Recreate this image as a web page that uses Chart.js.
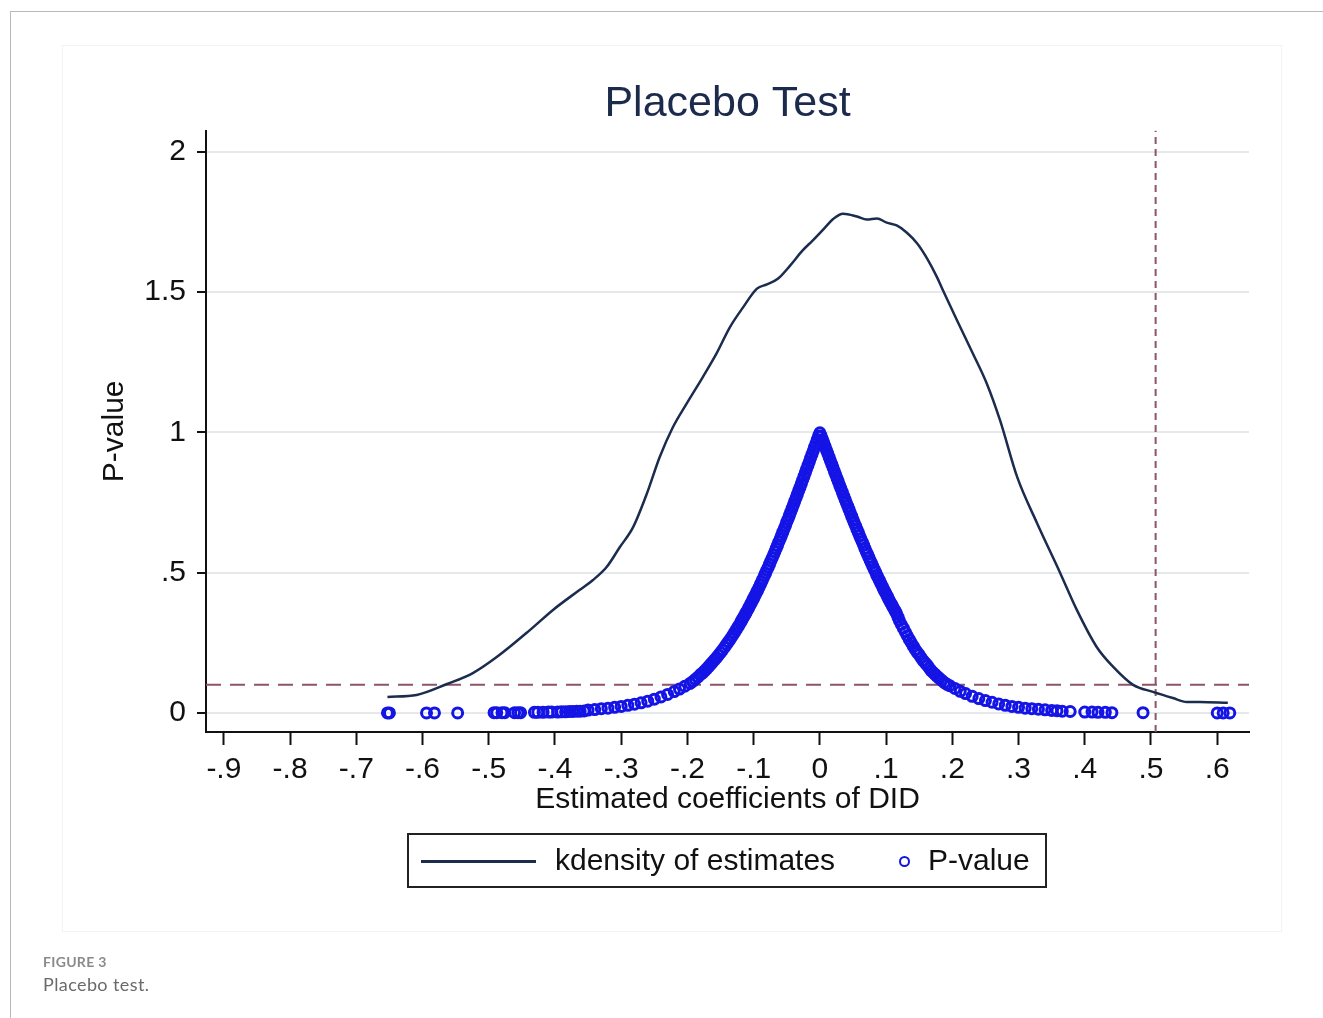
<!DOCTYPE html>
<html>
<head>
<meta charset="utf-8">
<title>Placebo Test</title>
<script src="https://cdn.jsdelivr.net/npm/chart.js@4.4.1/dist/chart.umd.min.js"></script>
<style>
  html, body { margin: 0; padding: 0; background: #fff; }
  body { width: 1323px; height: 1018px; position: relative; overflow: hidden; }
  #frame { position: absolute; left: 10px; top: 11px; width: 1330px; height: 1020px;
           border-left: 1.5px solid #b8b8b8; border-top: 1.5px solid #b8b8b8; }
  #panel { position: absolute; left: 62px; top: 45px; width: 1218px; height: 885px;
           border: 1px solid #f3f3f3; background: #fff; }
  #chart { position: absolute; left: 0; top: 0; }
  #legend { position: absolute; left: 407px; top: 833px; width: 636px; height: 51px;
            border: 2px solid #222; font-family: "Liberation Sans", Arial, sans-serif;
            font-size: 30px; color: #111; }
  #legend .line { position: absolute; left: 12px; top: 25px; width: 115px; height: 3px; background: #1b2c4e; }
  #legend .txt1 { position: absolute; left: 146px; top: 8px; }
  #legend .dot { position: absolute; left: 490px; top: 21px; width: 7px; height: 7px;
                 border: 2.5px solid #1414e0; border-radius: 50%; }
  #legend .txt2 { position: absolute; left: 519px; top: 8px; }
  .cap1 { position: absolute; left: 43px; top: 953px; font-family: Lato, "Open Sans", sans-serif;
          font-size: 14px; font-weight: bold; color: #8a8a8a; letter-spacing: 0.3px; }
  .cap2 { position: absolute; left: 43px; top: 973px; font-family: Lato, "Open Sans", sans-serif;
          font-size: 18px; color: #6a6a6a; letter-spacing: 0.4px; }
</style>
</head>
<body>
<div id="frame"></div>
<div id="panel"></div>
<canvas id="chart" width="1323" height="1018"></canvas>
<div id="legend">
  <div class="line"></div><span class="txt1">kdensity of estimates</span>
  <div class="dot"></div><span class="txt2">P-value</span>
</div>
<div class="cap1">FIGURE 3</div>
<div class="cap2">Placebo test.</div>
<script>
// kernel density of the placebo estimates
const kdX = [-0.653, -0.609, -0.563, -0.524, -0.488, -0.438, -0.403, -0.363, -0.343, -0.322,
  -0.302, -0.282, -0.261, -0.242, -0.222, -0.201, -0.177, -0.156, -0.136, -0.116,
  -0.095, -0.080, -0.063, -0.045, -0.026, -0.011, 0.008, 0.020, 0.035, 0.056,
  0.071, 0.086, 0.101, 0.116, 0.131, 0.147, 0.162, 0.177, 0.186, 0.207,
  0.231, 0.252, 0.272, 0.298, 0.328, 0.363, 0.388, 0.418, 0.443, 0.473,
  0.503, 0.533, 0.554, 0.574, 0.616];
const kdY = [0.057, 0.064, 0.103, 0.142, 0.199, 0.295, 0.367, 0.438, 0.473, 0.520,
  0.591, 0.662, 0.783, 0.911, 1.018, 1.103, 1.196, 1.281, 1.374, 1.445,
  1.512, 1.527, 1.548, 1.594, 1.648, 1.683, 1.730, 1.760, 1.779, 1.769,
  1.758, 1.762, 1.747, 1.737, 1.712, 1.673, 1.619, 1.552, 1.505, 1.399,
  1.281, 1.174, 1.043, 0.840, 0.676, 0.498, 0.367, 0.235, 0.164, 0.100,
  0.075, 0.053, 0.039, 0.039, 0.036];

// estimated coefficients and their p-values
const estX = [-0.653, -0.650, -0.594, -0.582, -0.547, -0.492, -0.488, -0.480, -0.476, -0.461,
  -0.456, -0.452, -0.431, -0.426, -0.418, -0.410, -0.405, -0.396, -0.390, -0.384,
  -0.378, -0.373, -0.367, -0.362, -0.356,
  -0.350, -0.340, -0.330, -0.320, -0.310, -0.300, -0.290, -0.280, -0.270, -0.260,
  -0.250, -0.240, -0.230, -0.220, -0.212, -0.204, -0.196, -0.188, -0.180, -0.174,
  -0.168, -0.162, -0.156, -0.150, -0.144, -0.138, -0.132, -0.126, -0.120, -0.116,
  -0.112, -0.108, -0.104, -0.100, -0.096, -0.092, -0.088, -0.084, -0.080, -0.076,
  -0.072, -0.068, -0.064, -0.060, -0.056, -0.052, -0.048, -0.044, -0.040, -0.036,
  -0.032, -0.028, -0.024, -0.020, -0.016, -0.012, -0.008, -0.004, 0.000,
  0.004, 0.008, 0.012, 0.016, 0.020, 0.024, 0.028, 0.032, 0.036, 0.040,
  0.044, 0.048, 0.052, 0.056, 0.060, 0.064, 0.068, 0.072, 0.076, 0.080,
  0.084, 0.088, 0.092, 0.096, 0.100, 0.104, 0.108, 0.112, 0.116, 0.120,
  0.126, 0.132, 0.138, 0.144, 0.150, 0.156, 0.162, 0.168, 0.174, 0.180,
  0.188, 0.196, 0.204, 0.212, 0.220, 0.230, 0.240, 0.250, 0.260, 0.270,
  0.280, 0.290, 0.300, 0.310, 0.320, 0.330, 0.340, 0.350, 0.358,
  0.366, 0.378, 0.400, 0.411, 0.420, 0.431, 0.441, 0.488, 0.600, 0.609, 0.619];
const pVal = [0.000, 0.000, 0.000, 0.000, 0.000, 0.001, 0.001, 0.001, 0.001, 0.001,
  0.001, 0.001, 0.002, 0.002, 0.002, 0.003, 0.003, 0.003, 0.004, 0.004,
  0.005, 0.005, 0.006, 0.006, 0.007,
  0.010, 0.012, 0.015, 0.017, 0.020, 0.023, 0.027, 0.031, 0.036, 0.042,
  0.049, 0.057, 0.066, 0.076, 0.085, 0.095, 0.105, 0.120, 0.137, 0.150,
  0.165, 0.181, 0.197, 0.215, 0.234, 0.254, 0.275, 0.298, 0.321, 0.338,
  0.355, 0.372, 0.390, 0.409, 0.428, 0.447, 0.467, 0.488, 0.509, 0.530,
  0.552, 0.574, 0.597, 0.620, 0.644, 0.667, 0.691, 0.716, 0.741, 0.766,
  0.792, 0.817, 0.843, 0.869, 0.895, 0.921, 0.947, 0.974, 0.998,
  0.974, 0.949, 0.924, 0.898, 0.873, 0.848, 0.823, 0.798, 0.773, 0.749,
  0.725, 0.701, 0.677, 0.654, 0.631, 0.609, 0.586, 0.565, 0.543, 0.522,
  0.502, 0.481, 0.462, 0.442, 0.424, 0.405, 0.388, 0.370, 0.353, 0.329,
  0.302, 0.275, 0.250, 0.226, 0.207, 0.186, 0.170, 0.151, 0.137, 0.124,
  0.108, 0.097, 0.087, 0.077, 0.069, 0.059, 0.051, 0.044, 0.038, 0.032,
  0.027, 0.023, 0.020, 0.017, 0.015, 0.013, 0.011, 0.009, 0.008,
  0.006, 0.005, 0.003, 0.003, 0.002, 0.002, 0.001, 0.001, 0.000, 0.000, 0.000];

// more estimates in the dense middle of the band
const estX2 = [-0.192, -0.184, -0.177, -0.171, -0.165, -0.159, -0.153, -0.147, -0.141, -0.135,
  -0.129, -0.123, -0.118, -0.114, -0.110, -0.106, -0.102, -0.098, -0.094, -0.090,
  -0.086, -0.082, -0.078, -0.074, -0.070, -0.066, -0.062, -0.058, -0.054, -0.050,
  -0.046, -0.042, -0.038, -0.034, -0.030, -0.026, -0.022, -0.018, -0.014, -0.010,
  -0.006, -0.002,
  0.002, 0.006, 0.010, 0.014, 0.018, 0.022, 0.026, 0.030, 0.034, 0.038,
  0.042, 0.046, 0.050, 0.054, 0.058, 0.062, 0.066, 0.070, 0.074, 0.078,
  0.082, 0.086, 0.090, 0.094, 0.098, 0.102, 0.106, 0.110, 0.114, 0.118,
  0.123, 0.129, 0.135, 0.141, 0.147, 0.153, 0.159, 0.165, 0.171, 0.177,
  0.184, 0.192];
const pVal2 = [0.112, 0.128, 0.143, 0.157, 0.173, 0.189, 0.206, 0.224, 0.244, 0.264,
  0.286, 0.309, 0.330, 0.346, 0.363, 0.381, 0.399, 0.418, 0.437, 0.457,
  0.477, 0.498, 0.519, 0.541, 0.563, 0.586, 0.609, 0.632, 0.656, 0.680,
  0.704, 0.729, 0.754, 0.779, 0.804, 0.830, 0.856, 0.882, 0.908, 0.934,
  0.960, 0.987,
  0.987, 0.962, 0.936, 0.911, 0.886, 0.860, 0.835, 0.810, 0.786, 0.761,
  0.737, 0.713, 0.689, 0.666, 0.643, 0.620, 0.598, 0.575, 0.554, 0.533,
  0.512, 0.491, 0.472, 0.452, 0.433, 0.415, 0.396, 0.379, 0.362, 0.341,
  0.315, 0.288, 0.262, 0.238, 0.216, 0.196, 0.178, 0.160, 0.144, 0.130,
  0.116, 0.102];

const xTicks = [-0.9, -0.8, -0.7, -0.6, -0.5, -0.4, -0.3, -0.2, -0.1, 0, 0.1, 0.2, 0.3, 0.4, 0.5, 0.6];
const xTickLabels = ["-.9", "-.8", "-.7", "-.6", "-.5", "-.4", "-.3", "-.2", "-.1", "0", ".1", ".2", ".3", ".4", ".5", ".6"];
const yTicks = [0, 0.5, 1, 1.5, 2];
const yTickLabels = ["0", ".5", "1", "1.5", "2"];

const didCoef = 0.507; // true DID estimate (vertical line)
const pCut = 0.1;      // significance level (horizontal line)
const xMin = -0.927, xMax = 0.648, yMin = -0.068, yMax = 2.075;

const FONT = '"Liberation Sans", Arial, sans-serif';
const refColor = "#8e5468";

const pPoints = estX.map((x, i) => ({ x: x, y: pVal[i] }))
  .concat(estX2.map((x, i) => ({ x: x, y: pVal2[i] })));

const ctx = document.getElementById("chart");
new Chart(ctx, {
  type: "scatter",
  data: {
    datasets: [
      {
        label: "P-value",
        data: pPoints,
        pointRadius: 5,
        pointBorderWidth: 3,
        pointBorderColor: "#1414e6",
        pointBackgroundColor: "rgba(0,0,0,0)",
        showLine: false,
      },
      {
        label: "kdensity of estimates",
        data: kdX.map((x, i) => ({ x: x, y: kdY[i] })),
        showLine: true,
        borderColor: "#1b2c4e",
        borderWidth: 2.5,
        pointRadius: 0,
        cubicInterpolationMode: "monotone",
      },
      {
        label: "p = 0.1",
        data: [{ x: xMin, y: pCut }, { x: xMax, y: pCut }],
        showLine: true,
        borderColor: refColor,
        borderWidth: 2,
        borderDash: [15, 9],
        pointRadius: 0,
      },
      {
        label: "DID",
        data: [{ x: didCoef, y: yMin }, { x: didCoef, y: yMax }],
        showLine: true,
        borderColor: refColor,
        borderWidth: 2,
        borderDash: [7, 5],
        pointRadius: 0,
      },
    ],
  },
  options: {
    responsive: false,
    animation: false,
    events: [],
    layout: { padding: { left: 97, right: 74, top: 78, bottom: 200 } },
    plugins: {
      legend: { display: false },
      tooltip: { enabled: false },
      title: {
        display: true,
        fullSize: false,
        text: "Placebo Test",
        color: "#1c2a4c",
        font: { size: 43, family: FONT, weight: "normal" },
        padding: { top: 0, bottom: 1 },
      },
    },
    scales: {
      x: {
        type: "linear",
        min: xMin,
        max: xMax,
        afterBuildTicks: (s) => { s.ticks = xTicks.map((v) => ({ value: v })); },
        afterFit: (s) => { s.height = 86; },
        ticks: {
          callback: (v, i) => xTickLabels[i],
          autoSkip: false,
          maxRotation: 0,
          color: "#111",
          font: { size: 30, family: FONT },
          padding: 7,
        },
        grid: { drawOnChartArea: false, tickLength: 13, tickColor: "#111", tickWidth: 2 },
        border: { color: "#111", width: 2 },
        title: {
          display: true,
          text: "Estimated coefficients of DID",
          color: "#111",
          font: { size: 30, family: FONT },
          padding: 0,
        },
      },
      y: {
        type: "linear",
        min: yMin,
        max: yMax,
        afterBuildTicks: (s) => { s.ticks = yTicks.map((v) => ({ value: v })); },
        afterFit: (s) => { s.width = 109; },
        ticks: {
          callback: (v, i) => yTickLabels[i],
          autoSkip: false,
          color: "#111",
          font: { size: 30, family: FONT },
          padding: 11,
        },
        grid: { color: "#e6e9ec", lineWidth: 2, tickLength: 9, tickColor: "#111", tickWidth: 2 },
        border: { color: "#111", width: 2 },
        title: {
          display: true,
          text: "P-value",
          color: "#111",
          font: { size: 30, family: FONT },
          padding: 0,
        },
      },
    },
  },
});
</script>
</body>
</html>
